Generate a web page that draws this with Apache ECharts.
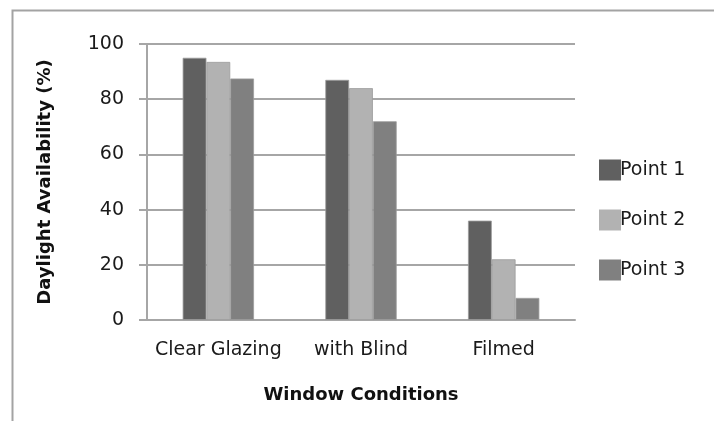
<!DOCTYPE html>
<html>
<head>
<meta charset="utf-8">
<script src="https://cdn.jsdelivr.net/npm/echarts@6/dist/echarts.min.js"></script>
<style>
  html, body { margin: 0; padding: 0; background: #fff; }
  #chart { width: 714px; height: 421px; }
</style>
</head>
<body>
<div id="chart"></div>
<script>
// Window conditions on the x axis, daylight availability per measuring point
const categories = ['Clear Glazing', 'with Blind', 'Filmed'];
const point1 = [95, 87, 36];
const point2 = [93.5, 84, 22];
const point3 = [87.5, 72, 8];
const seriesNames = ['Point 1', 'Point 2', 'Point 3'];
const yTicks = [0, 20, 40, 60, 80, 100];

const FONT = 'DejaVu Sans';
const GRID_GREY = '#a6a6a6';

const chart = echarts.init(document.getElementById('chart'), null, { renderer: 'canvas' });

const barStyle = (color) => ({
  color: color,
  borderColor: '#9c9c9c',
  borderWidth: 0.8
});

chart.setOption({
  animation: false,
  backgroundColor: '#ffffff',
  graphic: [{
    type: 'rect',
    shape: { x: 12.5, y: 10.5, width: 760, height: 460 },
    style: { fill: null, stroke: '#a3a3a3', lineWidth: 2 },
    silent: true
  }],
  grid: { left: 147, right: 139, top: 44, bottom: 101 },
  legend: {
    orient: 'vertical',
    left: 599,
    top: 159.5,
    padding: 0,
    itemWidth: 22,
    itemHeight: 21,
    itemGap: 29,
    icon: 'rect',
    data: seriesNames,
    itemStyle: { borderWidth: 0 },
    textStyle: {
      fontFamily: FONT,
      fontSize: 19,
      lineHeight: 15,
      color: '#1a1a1a',
      padding: [0, 0, 0, -6]
    }
  },
  xAxis: {
    type: 'category',
    data: categories,
    name: 'Window Conditions',
    nameLocation: 'middle',
    nameGap: 66,
    nameTextStyle: { fontFamily: FONT, fontSize: 18, fontWeight: 'bold', color: '#111' },
    axisLine: { lineStyle: { color: GRID_GREY, width: 2 } },
    axisTick: { show: false },
    axisLabel: { interval: 0, fontFamily: FONT, fontSize: 19, color: '#1a1a1a', margin: 21 }
  },
  yAxis: {
    type: 'value',
    min: yTicks[0],
    max: yTicks[yTicks.length - 1],
    interval: yTicks[1] - yTicks[0],
    name: 'Daylight Availability (%)',
    nameLocation: 'middle',
    nameGap: 93,
    nameTextStyle: { fontFamily: FONT, fontSize: 18, fontWeight: 'bold', color: '#111' },
    axisLine: { show: true, lineStyle: { color: GRID_GREY, width: 2 } },
    axisTick: { show: true, inside: false, length: 8, lineStyle: { color: GRID_GREY, width: 2 } },
    axisLabel: { fontFamily: FONT, fontSize: 19, color: '#1a1a1a', margin: 23 },
    splitLine: { lineStyle: { color: GRID_GREY, width: 2 } }
  },
  series: [
    { name: seriesNames[0], type: 'bar', data: point1, itemStyle: barStyle('#606060'), barGap: '0%', barCategoryGap: '50%' },
    { name: seriesNames[1], type: 'bar', data: point2, itemStyle: barStyle('#b2b2b2'), barGap: '0%', barCategoryGap: '50%' },
    { name: seriesNames[2], type: 'bar', data: point3, itemStyle: barStyle('#808080'), barGap: '0%', barCategoryGap: '50%' }
  ]
});
</script>
</body>
</html>
